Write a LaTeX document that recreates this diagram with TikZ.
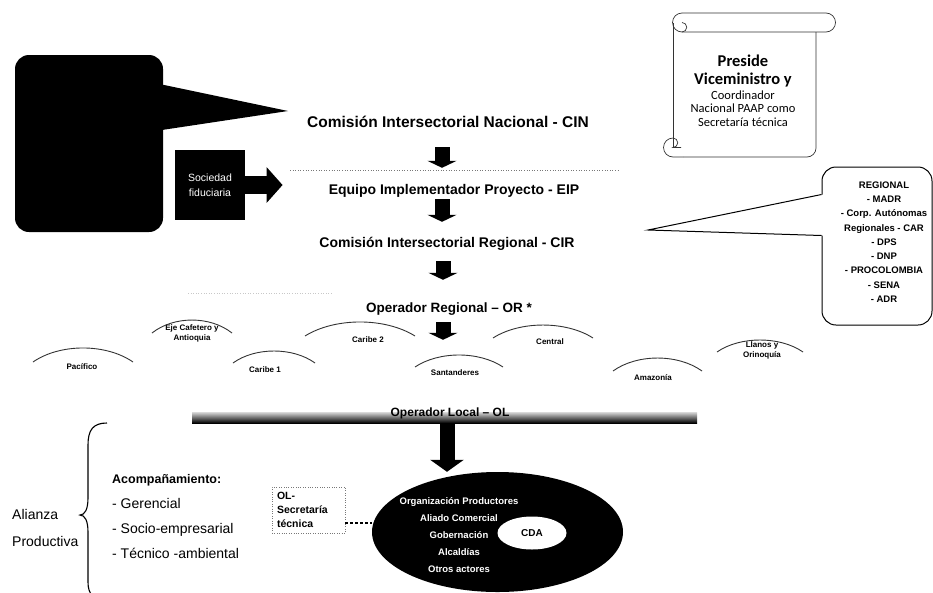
\documentclass[tikz,border=0pt]{standalone}
\usepackage{fontspec}
\setmainfont{Liberation Sans}
\newfontfamily\scrollfont{Carlito}
\usetikzlibrary{arrows.meta,positioning,calc,shapes.geometric}
\definecolor{AlzInk}{RGB}{0,0,0}
\definecolor{AlzGray}{RGB}{120,120,120}
\definecolor{AlzLightGray}{RGB}{200,200,200}
\tikzset{
  alz/title/.style={
    font=\bfseries\fontsize{14}{16}\selectfont,
    inner sep=0pt,
    text height=11pt,
    text depth=3pt
  },
  alz/region/.style={
    font=\bfseries\fontsize{8}{10}\selectfont,
    align=center,
    inner sep=0pt,
    text height=6pt,
    text depth=2pt
  },
  alz/regarc/.style={draw=black!80, line width=0.9pt},
  alz/blockarrow/.style={-{Triangle[length=7pt,width=29pt]}, line width=15pt, draw=AlzInk},
  alz/olarrow/.style={-{Triangle[length=12pt,width=33pt]}, line width=15pt, draw=AlzInk},
  alz/fatarrow/.style={-{Triangle[length=16pt,width=35pt]}, line width=18pt, draw=AlzInk},
  alz/darkbox/.style={
    fill=AlzInk,
    rounded corners=14pt,
    minimum width=148pt,
    minimum height=177pt,
    inner sep=0pt
  },
  alz/fidbox/.style={
    fill=AlzInk,
    text=white,
    align=center,
    minimum width=70pt,
    minimum height=70pt,
    inner sep=0pt,
    font=\fontsize{10.5}{15}\selectfont
  },
  alz/regbox/.style={
    draw=AlzInk,
    line width=1pt,
    rounded corners=14pt,
    fill=white,
    minimum width=110pt,
    minimum height=158pt,
    inner sep=0pt
  },
  alz/regtext/.style={font=\bfseries\fontsize{9.5}{14.3}\selectfont, align=center, inner sep=0pt},
  alz/scroll/.style={draw=black!80, line width=0.7pt},
  alz/sep/.style={draw=AlzGray, dotted, line width=0.6pt},
  alz/actors/.style={
    ellipse,
    fill=AlzInk,
    minimum width=251pt,
    minimum height=120pt,
    inner sep=0pt
  },
  alz/cda/.style={
    ellipse,
    fill=white,
    minimum width=69pt,
    minimum height=33pt,
    inner sep=0pt,
    font=\bfseries\fontsize{10}{12}\selectfont
  },
  alz/inner/.style={text=white, font=\bfseries\fontsize{9.5}{17}\selectfont, align=center, inner sep=0pt},
  alz/secbox/.style={
    draw=AlzGray,
    dotted,
    align=left,
    text width=63pt,
    minimum height=46pt,
    inner xsep=5pt,
    inner ysep=2pt,
    font=\bfseries\fontsize{10.5}{14}\selectfont
  },
  alz/dotline/.style={draw=AlzInk, line width=2.5pt, dash pattern=on 3pt off 2pt},
  alz/list/.style={align=left, inner sep=0pt, font=\fontsize{14}{25}\selectfont},
  alz/brace/.style={draw=AlzInk, line width=1.1pt}
}

\begin{document}
\begin{tikzpicture}[x=1pt,y=-1pt]
  \useasboundingbox (0,0) rectangle (933,592);

  \node[alz/darkbox] (ent) at (89,143.5) {};
  \coordinate (entTip) at (288,111);
  \fill[AlzInk] ([yshift=-30pt]ent.north east) -- (entTip) -- ([yshift=-75pt]ent.north east) -- cycle;

  \node[alz/fidbox] (fid) at (210,185) {Sociedad\\fiduciaria};

  \draw[alz/scroll] (682,13) -- (826,13) arc[start angle=-90,end angle=90,radius=9.5] -- (682,32);
  \draw[alz/scroll] (682,13) arc[start angle=270,end angle=90,radius=9.5];
  \draw[alz/scroll] (682,32) arc[start angle=90,end angle=-90,radius=4.75];
  \draw[alz/scroll] (673,22.5) -- (673,147);
  \draw[alz/scroll] (816,32) -- (816,148) arc[start angle=0,end angle=90,radius=9] -- (683,157);
  \draw[alz/scroll] (683,157) -- (673,157) arc[start angle=90,end angle=270,radius=9.5]
    arc[start angle=-90,end angle=90,radius=4.75] -- (681,147.5);
  \node[font=\scrollfont\bfseries\fontsize{16.5}{18}\selectfont, align=center, inner sep=0pt] (pres) at (743,71) {Preside\\Viceministro y};
  \node[font=\scrollfont\fontsize{12.5}{13.5}\selectfont, align=center, inner sep=0pt] (coord) at (743,108.5) {Coordinador\\Nacional PAAP como\\Secretaría técnica};

  \node[alz/regbox] (reg) at (877,246) {};
  \coordinate (regTip) at (648,230);
  \fill[white] ([yshift=-28pt]reg.north west) -- (regTip) -- ([yshift=-69pt]reg.north west)
    -- ([xshift=1.5pt,yshift=-69pt]reg.north west) -- ([xshift=1.5pt,yshift=-28pt]reg.north west) -- cycle;
  \draw[line width=1pt] ([yshift=-28pt]reg.north west) -- (regTip) -- ([yshift=-69pt]reg.north west);
  \node[alz/regtext] (regtxt) at (884,242) {REGIONAL\\- MADR\\- Corp. Autónomas\\Regionales - CAR\\- DPS\\- DNP\\- PROCOLOMBIA\\- SENA\\- ADR};

  \draw[alz/sep] (290,170) -- (620,170);
  \draw[draw=AlzLightGray, dotted, line width=0.6pt] (188,293) -- (333,293);

  \node[alz/title, font=\bfseries\fontsize{15.5}{18}\selectfont] (cin) at (448,123) {Comisión Intersectorial Nacional - CIN};
  \node[alz/title] (eip) at (454,190) {Equipo Implementador Proyecto - EIP};
  \node[alz/title] (cir) at (447,243) {Comisión Intersectorial Regional - CIR};
  \node[alz/title, font=\bfseries\fontsize{13.5}{16}\selectfont] (or) at (449,308) {Operador Regional – OR *};

  \draw[alz/blockarrow, shorten <=17pt, shorten >=15pt] ([xshift=-6pt]cin.south) -- ([xshift=-6pt]cin.south |- eip.north);
  \draw[alz/blockarrow, shorten <=2pt, shorten >=14pt] ([xshift=-12pt]eip.south) -- ([xshift=-12pt]eip.south |- cir.north);
  \draw[alz/blockarrow, shorten <=11pt, shorten >=21pt] ([xshift=-4pt]cir.south) -- ([xshift=-4pt]cir.south |- or.north);
  \draw[alz/fatarrow, shorten >=46pt] (fid.east) -- (fid.east -| eip.west);

  \node[alz/region] (pac) at (82,367) {Pacífico};
  \node[alz/region] (eje) at (192,338) {Eje Cafetero y\\Antioquia};
  \node[alz/region] (car1) at (265,370) {Caribe 1};
  \node[alz/region] (car2) at (368,340) {Caribe 2};
  \node[alz/region] (san) at (455,373) {Santanderes};
  \node[alz/region] (cen) at (550,342) {Central};
  \node[alz/region] (ama) at (653,378) {Amazonía};
  \node[alz/region] (lla) at (762,355) {Llanos y\\Orinoquía};
  \draw[alz/regarc] (33,362) .. controls (60,343.3) and (106,343.3) .. (133,362);
  \draw[alz/regarc] (152,333) .. controls (174,315.7) and (210,315.7) .. (232,333);
  \draw[alz/regarc] (233,363) .. controls (255,347) and (293,347) .. (315,363);
  \draw[alz/regarc] (305,336) .. controls (335,317.3) and (385,317.3) .. (415,336);
  \draw[alz/regarc] (415,367) .. controls (439,351) and (479,351) .. (503,367);
  \draw[alz/regarc] (493,338) .. controls (520,320.7) and (566,320.7) .. (593,338);
  \draw[alz/regarc] (613,371) .. controls (637,353.7) and (678,353.7) .. (702,371);
  \draw[alz/regarc] (717,352) .. controls (740,336) and (780,336) .. (803,352);

  \draw[alz/blockarrow, shorten <=7pt, shorten >=29pt] ([xshift=-6pt]or.south) -- ([xshift=-6pt]or.south |- san.north);

  \shade[top color=black!15, bottom color=black] (192,412) rectangle (697,423);
  \node[alz/title, font=\bfseries\fontsize{12}{14}\selectfont] (ol) at (450,412) {Operador Local – OL};

  \node[alz/actors] (act) at (497.5,532) {};
  \node[alz/inner] (acttxt) at (459,535) {Organización Productores\\Aliado Comercial\\Gobernación\\Alcaldías\\Otros actores};
  \node[alz/cda] (cda) at (532,533) {CDA};
  \draw[alz/olarrow, shorten <=4pt] ([xshift=-3pt]ol.south) -- ([xshift=-3pt]ol.south |- act.north);

  \node[alz/secbox] (sec) at (308.5,510) {OL-\\Secretaría\\técnica};
  \draw[alz/dotline] (sec.east |- 0,523) -- (act.west |- 0,523);

  \node[alz/list, anchor=west] (ali) at (12,528) {Alianza\\[2pt]Productiva};
  \draw[alz/brace] (107,423) .. controls (93,423) and (88,430) .. (88,445) -- (88,498)
    .. controls (88,509) and (85,515) .. (80,515) .. controls (85,515) and (88,521) .. (88,532)
    -- (88,582) .. controls (88,594) and (93,600) .. (107,600);
  \node[alz/list, anchor=west] (acomp) at (112,517) {{\bfseries\fontsize{12.5}{25}\selectfont Acompañamiento:}\\- Gerencial\\- Socio-empresarial\\- Técnico -ambiental};
\end{tikzpicture}
\end{document}
